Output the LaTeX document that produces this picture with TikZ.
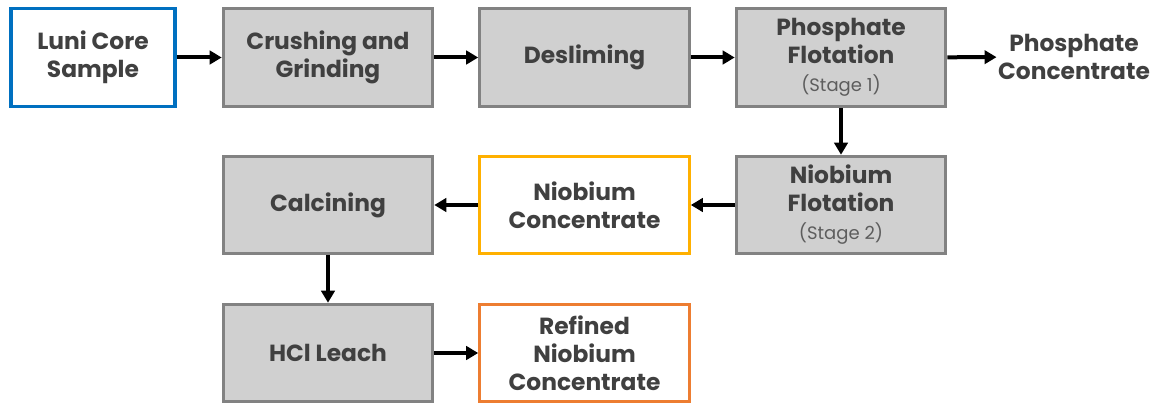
\documentclass[tikz,border=0pt]{standalone}
\usepackage{fontspec}
\setmainfont{Poppins}
\usetikzlibrary{arrows.meta}
\definecolor{txt}{HTML}{404040}
\definecolor{grayfill}{HTML}{D0D0D0}
\definecolor{grayline}{HTML}{828282}
\definecolor{blueline}{HTML}{0070C0}
\definecolor{yelline}{HTML}{FFB000}
\definecolor{orgline}{HTML}{ED7D31}
\newcommand{\stagetxt}[1]{{\fontsize{13.5}{17}\selectfont\mdseries\color{txt!85}#1}}
\begin{document}
\begin{tikzpicture}[x=0.75pt,y=-0.75pt,
  box/.style={draw=grayline,fill=grayfill,line width=2.4pt,minimum width=157pt,minimum height=73pt,inner sep=0pt,align=center,text=txt,font=\fontsize{17.5}{21}\selectfont\bfseries},
  wbox/.style={box,fill=white},
  lbl/.style={align=center,text=txt,font=\fontsize{17.5}{21}\selectfont\bfseries},
  arr/.style={line width=3pt,-{Triangle[length=9pt,width=10pt]}}]
\useasboundingbox (0,0) rectangle (1155,406);
\node[wbox,draw=blueline,minimum width=123pt] (luni) at (93,57.5) {Luni Core\\Sample};
\node[box] (crush) at (328,57.5) {Crushing and\\Grinding};
\node[box] (desl) at (584.5,57.5) {Desliming};
\node[box] (phos) at (841,57.5) {Phosphate\\Flotation\\\stagetxt{(Stage 1)}};
\node[lbl,inner sep=1pt] (pcon) at (1074,57) {Phosphate\\Concentrate};
\node[box] (calc) at (328,205) {Calcining};
\node[wbox,draw=yelline] (ncon) at (584.5,205) {Niobium\\Concentrate};
\node[box] (nflo) at (841,205) {Niobium\\Flotation\\\stagetxt{(Stage 2)}};
\node[box] (hcl) at (328,353) {HCl Leach};
\node[wbox,draw=orgline] (rcon) at (584.5,353) {Refined\\Niobium\\Concentrate};
\draw[arr] (luni) -- (crush);
\draw[arr] (crush) -- (desl);
\draw[arr] (desl) -- (phos);
\draw[arr] (phos) -- (pcon);
\draw[arr] (phos) -- (nflo);
\draw[arr] (nflo) -- (ncon);
\draw[arr] (ncon) -- (calc);
\draw[arr] (calc) -- (hcl);
\draw[arr] (hcl) -- (rcon);
\end{tikzpicture}
\end{document}
